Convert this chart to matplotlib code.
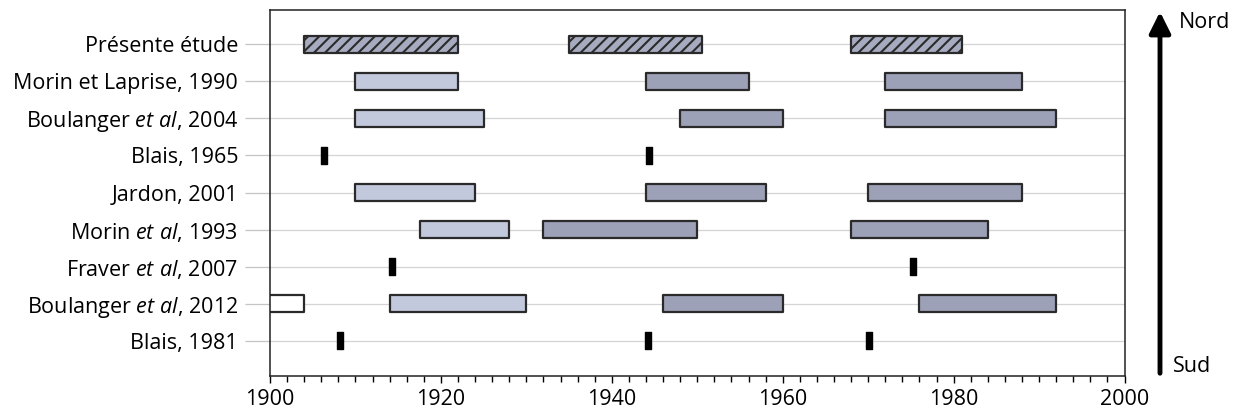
import matplotlib
matplotlib.use("Agg")
import matplotlib.pyplot as plt
from matplotlib.ticker import MultipleLocator

# ---- data ----
studies = [
    "Présente étude",
    "Morin et Laprise, 1990",
    r"Boulanger $\mathit{et\ al}$, 2004",
    "Blais, 1965",
    "Jardon, 2001",
    r"Morin $\mathit{et\ al}$, 1993",
    r"Fraver $\mathit{et\ al}$, 2007",
    r"Boulanger $\mathit{et\ al}$, 2012",
    "Blais, 1981",
]
# outbreak periods (start, end) per study, in years
periods = [
    [(1904, 1922), (1935, 1950.5), (1968, 1981)],
    [(1910, 1922), (1944, 1956), (1972, 1988)],
    [(1910, 1925), (1948, 1960), (1972, 1992)],
    [],
    [(1910, 1924), (1944, 1958), (1970, 1988)],
    [(1917.5, 1928), (1932, 1950), (1968, 1984)],
    [],
    [(1914, 1930), (1946, 1960), (1976, 1992)],
    [],
]
# single-year outbreak dates
events = [
    [],
    [],
    [],
    [1906.3, 1944.3],
    [],
    [],
    [1914.3, 1975.2],
    [],
    [1908.2, 1944.2, 1970.1],
]
# period before 1904 (Boulanger et al, 2012)
early_period = (1899, 1904)
early_row = 7

# ---- style ----
C_LIGHT = "#c2c9dd"
C_DARK = "#9da1b8"
C_HATCH = "#a7abc0"
EDGE = "#2a2a2a"
BAR_H = 0.46
FS = 15.5

plt.rcParams["font.family"] = ["Open Sans", "DejaVu Sans"]
plt.rcParams["mathtext.fontset"] = "custom"
plt.rcParams["mathtext.rm"] = "Open Sans"
plt.rcParams["mathtext.it"] = "Open Sans:italic"
plt.rcParams["hatch.linewidth"] = 1.5

fig = plt.figure(figsize=(12.44, 4.17), dpi=100)
ax = fig.add_axes([0.217, 0.098, 0.687, 0.878])

n = len(studies)
ypos = [n - i for i in range(n)]

for i, y in enumerate(ypos):
    ax.axhline(y, color="#d4d4d4", lw=0.9, zorder=0)
    for j, (s, e) in enumerate(periods[i]):
        if i == 0:
            ax.broken_barh([(s, e - s)], (y - BAR_H / 2, BAR_H),
                           facecolors=C_HATCH, edgecolors=EDGE, hatch="///",
                           linewidth=1.6, zorder=2)
        else:
            col = C_LIGHT if j == 0 else C_DARK
            ax.broken_barh([(s, e - s)], (y - BAR_H / 2, BAR_H),
                           facecolors=col, edgecolors=EDGE, linewidth=1.6, zorder=2)
    for ev in events[i]:
        ax.broken_barh([(ev - 0.35, 0.7)], (y - BAR_H / 2, BAR_H),
                       facecolors="black", edgecolors="black", linewidth=1, zorder=3)

# white period before 1904
s, e = early_period
ax.broken_barh([(s, e - s)], (ypos[early_row] - BAR_H / 2, BAR_H),
               facecolors="white", edgecolors=EDGE, linewidth=1.6, zorder=2)

ax.set_xlim(1900, 2000)
ax.set_ylim(0.05, 9.92)
ax.set_yticks(ypos)
ax.set_yticklabels(studies, fontsize=FS)
ax.tick_params(axis="y", length=18, width=0.9, color="#c4c4c4", pad=5)
ax.xaxis.set_major_locator(MultipleLocator(20))
ax.xaxis.set_minor_locator(MultipleLocator(2))
ax.tick_params(axis="x", which="major", length=5, width=1, labelsize=FS, pad=4)
ax.tick_params(axis="x", which="minor", length=4, width=1)
for sp in ax.spines.values():
    sp.set_linewidth(1.1)
    sp.set_color("#222222")

# north-south arrow
ax_x = 1160 / 1244
fig.patches.append(matplotlib.patches.FancyArrowPatch(
    (ax_x, 1 - 376 / 417), (ax_x, 1 - 9 / 417), transform=fig.transFigure,
    arrowstyle="-|>,head_length=8,head_width=4", mutation_scale=1.6,
    color="black", lw=3.5))
fig.text(1179 / 1244, 1 - 22 / 417, "Nord", fontsize=FS, va="center", ha="left")
fig.text(1173 / 1244, 1 - 367 / 417, "Sud", fontsize=FS, va="center", ha="left")

fig.savefig("out.png", dpi=100)
